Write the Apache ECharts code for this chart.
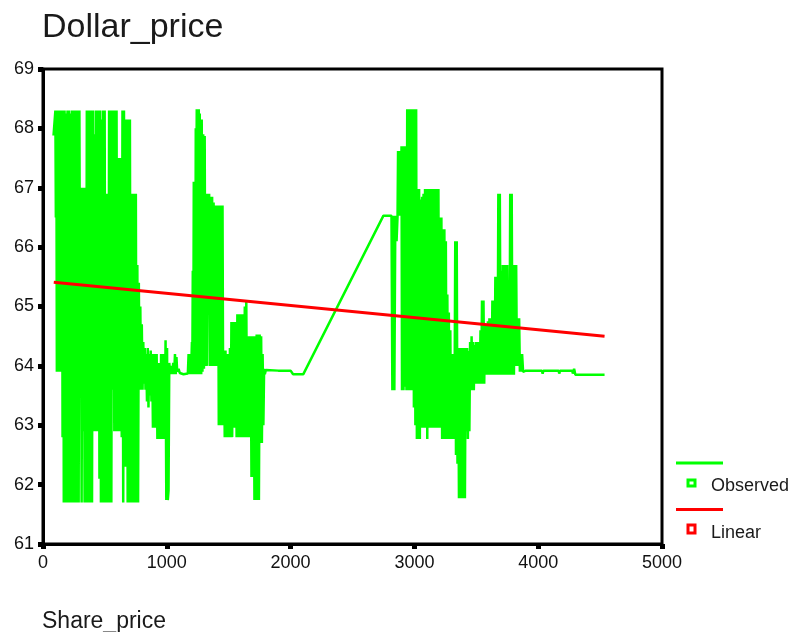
<!DOCTYPE html>
<html>
<head>
<meta charset="utf-8">
<script src="https://cdn.jsdelivr.net/npm/echarts@6/dist/echarts.min.js"></script>
<style>
html,body{margin:0;padding:0;background:#fff;}
#chart{width:797px;height:632px;}
</style>
</head>
<body>
<div id="chart"></div>
<script>
// ---- text ----
var chartTitle = 'Dollar_price';
var xAxisName = 'Share_price';
var legendNames = ['Observed', 'Linear'];

// ---- axes ----
var xTicks = { min: 0, max: 5000, interval: 1000 };
var yTicks = { min: 61, max: 69, interval: 1 };

// ---- observed series (Share_price, Dollar_price) ----
var obsBlock1 = [
 [85,67.88],[92,67.85],
 [100,68.3],[104,66.5],[108,68.3],[112,63.9],[118,68.3],[124,63.9],[130,68.3],[136,63.9],[142,68.3],[148,63.9],
 [154,68.3],[158,62.8],[164,68.3],[168,61.7],[174,68.3],[180,61.7],[186,68.25],[192,61.7],[198,68.3],[204,61.7],
 [210,68.3],[216,61.7],[222,68.25],[228,61.7],[234,68.3],[240,61.7],[246,68.3],[252,61.7],[258,68.3],[264,61.7],
 [270,68.3],[276,61.7],[282,68.3],[288,61.7],[294,68.3],[300,63.9],[306,67.0],[312,61.7],[318,67.0],[324,62.9],
 [330,67.0],[336,61.7],[342,67.0],[348,61.7],[354,68.3],[360,61.7],[366,68.3],[372,61.7],[378,68.3],[384,61.7],
 [390,68.3],[396,61.7],[402,68.3],[408,62.9],[414,67.9],[420,62.9],[426,68.3],[432,62.9],[438,68.3],[444,62.9],
 [450,68.3],[456,62.1],[462,68.3],[468,61.7],[474,68.15],[480,61.7],[486,68.3],[492,61.7],[498,68.3],[504,61.7],
 [510,66.9],[516,61.7],[522,66.9],[528,61.7],[534,68.3],[540,61.7],[546,68.3],[552,61.7],[558,68.3],[564,63.6],
 [570,68.3],[576,62.9],[582,68.3],[588,62.9],[594,68.3],[600,62.9],[606,67.5],[612,62.9],[618,67.5],[624,62.9],
 [630,67.5],[636,62.8],[642,68.3],[648,61.7],[654,68.3],[660,62.3],[666,68.15],[672,62.3],[678,68.15],[684,61.7],
 [690,68.15],[696,61.7],[702,68.15],[708,61.7],[714,66.9],[720,61.7],[726,66.9],[732,61.7],[738,66.9],[744,61.7],
 [750,66.9],[756,61.7],[762,65.7],[768,61.7],[774,65.4],[780,63.6],[786,65.0],[792,63.6],[798,64.7]
];
var obsGap1 = [
 [804,63.6],[810,64.4],[816,63.7],[822,64.3],[828,63.6],[834,64.2],[840,63.4],[846,64.3],[852,63.3],[858,64.2],
 [864,63.5],[870,64.26],[876,63.4],[882,64.2],[888,62.96],[894,64.2],[900,62.96],[906,64.2],[912,62.96],[918,64.2],
 [924,62.77],[930,64.05],[936,62.77],[942,64.05],[948,62.77],[954,64.2],[960,62.77],[966,64.2],[972,62.77],[978,64.2],
 [984,62.77],[990,64.43],[996,61.74],[1002,64.3],[1008,61.74],[1014,61.9],[1020,64.05],[1028,63.86],[1036,64.0],
 [1044,63.86],[1052,64.05],[1060,63.86],[1066,64.2],[1072,63.86],[1078,64.15],[1084,63.9],[1095,63.95],[1105,63.88],
 [1120,63.9],[1135,63.86],[1150,63.87],[1170,63.87],[1176,64.2],[1182,63.86],[1190,64.2],[1196,63.86],[1203,64.4],
 [1206,63.86],[1210,65.6],[1214,63.86]
];
var obsBlock2 = [
 [1218,67.1],[1222,63.86],[1226,67.1],[1230,63.86],[1234,68.0],[1238,66.6],[1242,68.32],[1246,63.86],[1250,68.32],
 [1254,63.86],[1258,68.32],[1262,63.86],[1266,68.25],[1270,66.6],[1274,68.15],[1278,63.86],[1282,68.15],[1288,63.9],
 [1294,67.9],[1300,63.95],[1306,67.87],[1312,64.0],[1318,66.9],[1324,64.0],[1330,66.9],[1336,65.7],[1342,66.9],
 [1348,64.0],[1354,66.85],[1360,64.0],[1366,66.85],[1372,64.0],[1378,66.75],[1384,64.0],[1390,66.7],[1396,64.0],
 [1402,66.7],[1408,64.0],[1414,66.7],[1420,63.0],[1426,66.7],[1432,63.0],[1438,66.7],[1444,63.0],[1450,66.7],
 [1456,63.0],[1462,64.26],[1468,62.8],[1474,64.26],[1480,62.8],[1486,64.2],[1492,62.8],[1498,64.2],[1504,62.8],
 [1510,64.3],[1516,62.8],[1522,64.74],[1528,62.8],[1534,64.74],[1540,62.96],[1546,64.74],[1552,62.96],[1558,64.74],
 [1564,62.8],[1570,64.87],[1576,62.8],[1582,64.87],[1588,62.8],[1594,64.87],[1600,62.8],[1606,64.87],[1612,62.8],
 [1618,64.87],[1624,62.8],[1630,65.0],[1636,62.8],[1642,65.1],[1648,62.8],[1654,64.5],[1660,62.8],[1666,64.5],
 [1672,62.8],[1678,64.5],[1684,62.13],[1690,64.5],[1696,62.13],[1702,64.5],[1708,61.74],[1714,64.5],[1720,61.74],
 [1726,64.53],[1732,61.74],[1738,64.53],[1744,61.74],[1750,64.53],[1756,62.7],[1762,64.5],[1768,62.7],[1774,64.2],
 [1780,63.0],[1786,63.95],[1792,63.86],[1800,63.93]
];
var obsRamp = [
 [1900,63.92],[2000,63.92],[2020,63.86],[2103,63.86],[2750,66.53],[2815,66.53],[2822,63.59],[2830,66.53],
 [2838,63.59],[2846,66.53],[2856,66.1],[2864,66.53],[2868,67.62],[2876,66.53],[2884,67.62],[2890,66.53]
];
var obsBlock3 = [
 [2896,67.7],[2900,63.59],[2906,67.7],[2912,63.59],[2918,67.7],[2924,63.65],[2930,67.7],[2936,63.59],[2942,68.32],
 [2948,63.59],[2954,68.32],[2960,63.59],[2966,68.32],[2972,63.59],[2978,68.32],[2984,63.59],[2990,68.32],[2996,63.3],
 [3002,68.32],[3008,63.0],[3014,68.32],[3020,62.77],[3026,66.98],[3032,62.77],[3038,66.98],[3044,62.77],[3050,66.8],
 [3056,62.96],[3062,66.85],[3068,62.96],[3074,66.9],[3080,62.96],[3086,66.98],[3092,62.96],[3098,66.98],[3104,62.77],
 [3110,66.98],[3116,62.96],[3122,66.98],[3128,62.96],[3134,66.98],[3140,62.96],[3146,66.98],[3152,62.96],[3158,66.98],
 [3164,62.96],[3170,66.98],[3176,62.96],[3182,66.98],[3188,62.96],[3194,66.98],[3200,62.96],[3206,66.5],[3212,62.96],
 [3218,66.5],[3224,62.77],[3230,66.3],[3236,62.77],[3242,66.3],[3248,62.77],[3254,66.1],[3260,62.77],[3266,65.2],
 [3272,62.77],[3278,64.9],[3284,62.77],[3290,64.6],[3296,62.77],[3302,64.2],[3308,62.77],[3314,64.2],[3320,62.77],
 [3326,64.2],[3330,66.1],[3336,62.5],[3342,66.1],[3348,62.35],[3354,64.3],[3360,61.77],[3366,64.3],[3372,61.77],
 [3378,64.3],[3384,61.77],[3390,64.3],[3396,61.77],[3402,64.3],[3408,61.77],[3414,64.3],[3420,62.9],[3426,64.3],
 [3432,62.77],[3438,64.25],[3444,62.9]
];
var obsBlock4 = [
 [3450,64.4],[3456,63.59],[3462,64.5],[3468,63.59],[3474,64.4],[3480,63.59],[3486,64.35],[3492,63.7],[3498,64.4],
 [3504,63.7],[3510,64.4],[3516,63.7],[3522,64.4],[3528,63.7],[3534,64.6],[3540,63.7],[3546,65.1],[3552,63.7],
 [3558,65.1],[3564,63.7],[3570,64.7],[3576,63.85],[3582,64.7],[3588,63.85],[3594,64.75],[3600,63.85],[3606,64.8],
 [3612,63.85],[3618,64.8],[3624,63.85],[3630,65.1],[3636,63.85],[3642,65.1],[3648,63.85],[3654,65.5],[3660,63.85],
 [3666,65.5],[3672,63.85],[3678,66.9],[3684,63.85],[3690,66.9],[3696,63.85],[3702,65.6],[3708,63.85],[3714,65.7],
 [3720,63.85],[3726,65.7],[3732,63.85],[3738,65.7],[3744,63.85],[3750,65.7],[3756,63.85],[3762,65.3],[3768,63.85],
 [3774,66.9],[3780,63.85],[3786,66.9],[3792,63.85],[3798,65.7],[3804,63.85],[3810,65.7],[3816,64.0],[3822,65.7],
 [3828,64.0],[3834,64.8],[3840,64.0],[3846,64.8],[3852,63.9],[3858,64.2],[3864,63.9],[3870,64.2],[3878,63.9]
];
var obsTail = [
 [3900,63.92],[4030,63.92],[4036,63.87],[4042,63.92],[4165,63.92],[4170,63.87],[4176,63.92],[4275,63.92],
 [4280,63.87],[4290,63.95],[4300,63.85],[4536,63.85]
];

// ---- linear fit ----
var linearX = [87, 4536];
var linearY = [65.41, 64.50];

var observed = [].concat(obsBlock1, obsGap1, obsBlock2, obsRamp, obsBlock3, obsBlock4, obsTail);
var linear = linearX.map(function (x, i) { return [x, linearY[i]]; });

var FONT = "'Liberation Sans', Arial, sans-serif";
var chart = echarts.init(document.getElementById('chart'), null, { renderer: 'canvas' });
chart.setOption({
  animation: false,
  backgroundColor: '#ffffff',
  grid: { left: 43, top: 69, right: 135, bottom: 88, show: true, borderColor: '#000', borderWidth: 3, backgroundColor: 'transparent' },
  xAxis: {
    type: 'value', min: xTicks.min, max: xTicks.max, interval: xTicks.interval,
    axisLine: { show: true, onZero: false, lineStyle: { color: '#000', width: 3 } },
    axisTick: { show: true, length: 5, lineStyle: { color: '#000', width: 5 } },
    axisLabel: { color: '#111', fontSize: 18, fontFamily: FONT, margin: 10, formatter: function (v) { return String(v); } },
    splitLine: { show: false }
  },
  yAxis: {
    type: 'value', min: yTicks.min, max: yTicks.max, interval: yTicks.interval,
    axisLine: { show: true, onZero: false, lineStyle: { color: '#000', width: 3 } },
    axisTick: { show: true, length: 5, lineStyle: { color: '#000', width: 5 } },
    axisLabel: { color: '#111', fontSize: 18, fontFamily: FONT, margin: 9, formatter: function (v) { return String(v); } },
    splitLine: { show: false }
  },
  series: [
    { name: legendNames[0], type: 'line', data: observed, showSymbol: false, z: 2,
      lineStyle: { color: '#00ff00', width: 2.5 }, itemStyle: { color: '#00ff00' } },
    { name: legendNames[1], type: 'line', data: linear, showSymbol: false, z: 3,
      lineStyle: { color: '#ff0000', width: 3 }, itemStyle: { color: '#ff0000' } }
  ],
  graphic: [
    { type: 'text', left: 42, top: 11, style: { text: chartTitle, font: "34px " + FONT, fill: '#1a1a1a' } },
    { type: 'text', left: 42, top: 610, style: { text: xAxisName, font: "23px " + FONT, fill: '#1a1a1a' } },
    { type: 'line', shape: { x1: 676, y1: 463, x2: 723, y2: 463 }, style: { stroke: '#00ff00', lineWidth: 3 } },
    { type: 'rect', shape: { x: 688, y: 480, width: 7, height: 6 }, style: { fill: '#fff', stroke: '#00ff00', lineWidth: 3 } },
    { type: 'text', left: 711, top: 477, style: { text: legendNames[0], font: "18px " + FONT, fill: '#1a1a1a' } },
    { type: 'line', shape: { x1: 676, y1: 509.5, x2: 723, y2: 509.5 }, style: { stroke: '#ff0000', lineWidth: 3 } },
    { type: 'rect', shape: { x: 688, y: 525, width: 7, height: 8 }, style: { fill: '#fff', stroke: '#ff0000', lineWidth: 3 } },
    { type: 'text', left: 711, top: 524, style: { text: legendNames[1], font: "18px " + FONT, fill: '#1a1a1a' } }
  ]
});
</script>
</body>
</html>
